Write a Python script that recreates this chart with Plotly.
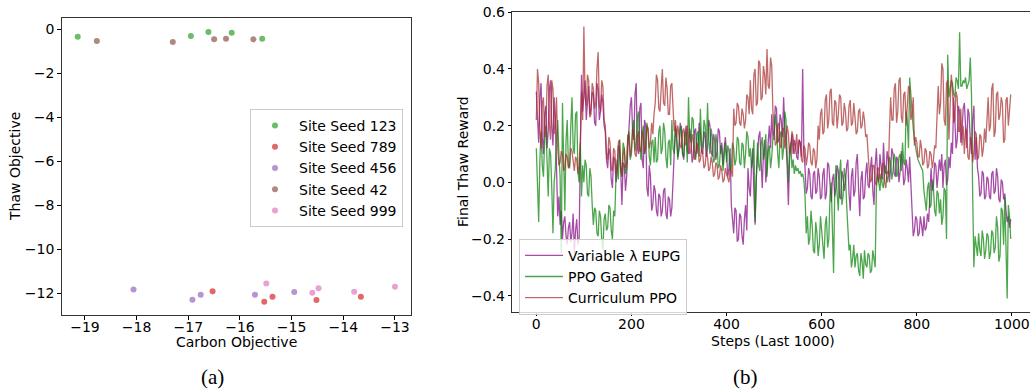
import plotly.graph_objects as go

# ---------------- Left panel data (a) ----------------
seed_names = ["Site Seed 123", "Site Seed 789", "Site Seed 456", "Site Seed 42", "Site Seed 999"]
seed_colors = ["#2ca02c", "#d62728", "#9467bd", "#8c564b", "#e377c2"]
carbon_123 = [-19.14, -16.95, -16.61, -16.16, -15.57]
thaw_123 = [-0.35, -0.32, -0.14, -0.17, -0.44]
carbon_789 = [-16.53, -15.53, -15.37, -14.52, -13.66]
thaw_789 = [-11.90, -12.38, -12.15, -12.30, -12.15]
carbon_456 = [-18.06, -16.92, -16.76, -15.71, -14.95]
thaw_456 = [-11.82, -12.29, -12.06, -12.06, -11.94]
carbon_42 = [-18.77, -17.30, -16.50, -16.27, -15.74]
thaw_42 = [-0.54, -0.59, -0.47, -0.44, -0.47]
carbon_999 = [-15.49, -14.60, -14.48, -13.79, -13.00]
thaw_999 = [-11.55, -11.97, -11.77, -11.93, -11.70]
seed_x = [carbon_123, carbon_789, carbon_456, carbon_42, carbon_999]
seed_y = [thaw_123, thaw_789, thaw_456, thaw_42, thaw_999]

# ---------------- Right panel data (b) ----------------
# one value every 2.5 steps (20 values per row = 50 steps)
eupg = [
    0.32, 0.20, 0.14, 0.30, 0.35, 0.16, 0.10, 0.24, 0.27, 0.12, 0.18, 0.33, 0.36, 0.20, 0.13, 0.30, 0.22, 0.05, -0.12, -0.05,
    -0.15, -0.10, -0.20, -0.14, -0.12, -0.19, -0.22, -0.16, -0.14, -0.21, -0.18, -0.11, -0.25, -0.17, -0.13, -0.22, -0.20, 0.10, 0.38, 0.25,
    0.30, 0.36, 0.22, 0.29, 0.34, 0.24, 0.26, 0.32, 0.31, 0.21, 0.20, 0.35, 0.33, 0.22, 0.25, 0.31, 0.28, 0.20, 0.18, 0.08,
    0.05, 0.12, 0.10, 0.01, -0.02, 0.09, 0.08, 0.00, 0.03, 0.13, 0.11, 0.04, -0.08, 0.07, 0.06, -0.03, 0.02, 0.12, 0.20, 0.27,
    0.30, 0.18, 0.15, 0.31, 0.35, 0.12, 0.10, 0.26, 0.28, 0.08, 0.05, 0.22, 0.20, -0.02, -0.05, 0.06, 0.02, -0.10, -0.08, -0.01,
    -0.03, -0.10, -0.12, -0.04, -0.05, -0.12, -0.10, -0.03, -0.02, -0.11, -0.13, -0.05, -0.06, -0.12, -0.09, 0.02, 0.10, 0.20, 0.15, 0.09,
    0.12, 0.21, 0.18, 0.10, 0.08, 0.17, 0.20, 0.11, 0.10, 0.19, 0.16, 0.07, 0.09, 0.18, 0.19, 0.10, 0.13, 0.21, 0.17, 0.11,
    0.10, 0.18, 0.16, 0.09, 0.12, 0.22, 0.20, 0.11, 0.09, 0.17, 0.15, 0.08, 0.11, 0.19, 0.18, 0.10, 0.14, 0.06, 0.12, 0.16,
    0.10, 0.02, 0.05, 0.12, -0.08, -0.14, -0.18, -0.09, -0.10, -0.21, -0.20, -0.11, -0.12, -0.19, -0.22, -0.13, -0.08, -0.17, 0.05, -0.02,
    -0.05, 0.06, 0.12, -0.04, -0.15, 0.02, 0.08, 0.16, 0.18, 0.04, -0.02, 0.10, 0.15, 0.00, 0.05, 0.14, 0.20, 0.12, 0.24, 0.16,
    0.18, 0.27, 0.26, 0.14, 0.15, 0.24, 0.22, 0.16, 0.30, 0.19, 0.14, 0.05, -0.08, 0.08, 0.12, 0.17, 0.10, 0.15, 0.13, 0.09,
    0.08, 0.15, 0.14, 0.09, 0.40, 0.12, 0.05, -0.04, -0.02, 0.05, 0.03, -0.05, -0.06, 0.03, 0.04, -0.04, -0.03, 0.05, 0.02, -0.06,
    -0.05, 0.03, 0.05, -0.06, -0.04, 0.07, 0.06, -0.03, -0.07, 0.01, 0.03, -0.05, -0.02, 0.06, 0.04, -0.05, -0.06, 0.04, 0.02, -0.03,
    0.00, 0.06, 0.08, -0.04, -0.10, 0.02, 0.05, -0.05, -0.03, 0.07, 0.10, -0.02, -0.12, 0.01, 0.04, -0.06, -0.05, 0.03, 0.07, -0.01,
    -0.02, 0.05, 0.09, -0.03, -0.08, 0.06, 0.12, 0.02, 0.00, 0.10, 0.06, 0.01, 0.14, 0.04, 0.03, 0.11, 0.08, 0.00, 0.05, 0.12,
    0.10, 0.03, 0.02, 0.09, 0.08, 0.00, 0.04, 0.11, 0.07, -0.01, 0.01, 0.08, 0.05, 0.00, 0.09, -0.02, -0.14, -0.19, -0.17, -0.12,
    -0.13, -0.19, -0.18, -0.12, -0.15, -0.19, -0.12, -0.17, -0.16, -0.11, -0.14, -0.05, 0.05, -0.03, -0.01, 0.07, 0.06, -0.02, 0.02, 0.08,
    0.04, 0.10, -0.02, 0.06, 0.08, -0.01, 0.01, 0.09, 0.05, 0.14, 0.10, 0.30, 0.22, 0.12, 0.15, 0.27, 0.25, 0.14, 0.18, 0.26,
    0.28, 0.18, 0.12, 0.26, 0.24, 0.15, 0.10, 0.22, 0.27, 0.08, 0.16, 0.05, 0.02, -0.05, -0.04, 0.04, 0.03, -0.06, -0.05, 0.02,
    0.01, -0.05, -0.06, 0.03, 0.04, -0.04, -0.03, 0.05, 0.02, -0.06, -0.07, 0.01, 0.00, -0.06, -0.04, -0.10, -0.14, -0.12, -0.16, -0.13,
]
ppo_gated = [
    0.12, 0.02, -0.14, 0.08, 0.18, 0.06, 0.02, 0.15, 0.20, 0.08, -0.05, 0.12, 0.10, -0.02, -0.18, 0.00, 0.05, 0.16, 0.22, 0.10,
    0.02, -0.25, 0.28, 0.08, -0.10, 0.15, 0.22, 0.06, 0.05, 0.20, 0.30, 0.12, 0.10, 0.24, 0.25, 0.04, 0.00, 0.14, -0.05, 0.06,
    0.00, 0.08, 0.06, -0.04, -0.05, 0.05, 0.02, -0.08, -0.15, -0.09, -0.10, -0.18, -0.19, -0.10, -0.12, -0.20, -0.24, -0.13, -0.11, -0.17,
    -0.16, -0.08, -0.09, -0.17, -0.20, -0.10, -0.12, 0.02, 0.08, 0.01, 0.15, 0.05, 0.02, 0.14, 0.12, 0.03, 0.05, 0.16, 0.18, 0.08,
    0.10, 0.19, 0.22, 0.11, 0.14, 0.23, 0.25, 0.13, 0.08, 0.17, 0.20, 0.10, 0.12, 0.21, 0.18, 0.09, 0.06, 0.14, 0.15, 0.07,
    0.16, 0.07, 0.08, 0.18, 0.20, 0.10, 0.12, 0.21, 0.18, 0.09, 0.05, 0.14, 0.15, 0.06, 0.22, 0.12, 0.10, 0.19, 0.17, 0.08,
    0.12, 0.19, 0.20, 0.10, 0.09, 0.18, 0.16, 0.07, 0.30, 0.16, 0.14, 0.23, 0.22, 0.11, 0.08, 0.17, 0.18, 0.09, 0.26, 0.13,
    0.12, 0.22, 0.20, 0.11, 0.28, 0.15, 0.10, 0.19, 0.16, 0.07, 0.08, 0.17, 0.14, 0.05, 0.06, 0.13, 0.12, 0.04, 0.09, 0.14,
    0.07, 0.13, 0.11, 0.04, 0.05, 0.14, 0.12, 0.06, 0.08, 0.16, 0.15, 0.07, 0.06, 0.14, 0.13, 0.05, 0.10, 0.18, 0.16, 0.09,
    0.12, 0.05, 0.08, 0.15, -0.14, 0.02, 0.14, 0.06, 0.04, 0.13, 0.16, 0.08, 0.10, 0.17, 0.02, 0.11, 0.13, 0.05, 0.09, 0.16,
    0.15, 0.24, 0.20, 0.10, 0.05, 0.17, 0.18, 0.08, 0.12, 0.25, 0.22, 0.09, 0.00, 0.12, 0.14, 0.05, 0.08, 0.03, 0.06, 0.04,
    0.05, 0.03, 0.04, 0.02, 0.03, 0.01, -0.05, -0.18, -0.12, -0.22, -0.20, -0.10, -0.15, -0.24, -0.25, -0.14, -0.18, -0.26, -0.22, -0.12,
    -0.16, -0.22, -0.27, -0.15, -0.12, -0.23, -0.20, -0.05, 0.00, -0.20, -0.32, -0.02, 0.06, -0.04, -0.10, 0.03, 0.08, -0.08, -0.05, 0.05,
    0.02, -0.08, -0.15, -0.24, -0.22, -0.30, -0.27, -0.22, -0.30, -0.26, -0.25, -0.31, -0.33, -0.25, -0.28, -0.34, -0.24, -0.29, -0.30, -0.25,
    -0.26, -0.32, -0.31, -0.24, -0.27, -0.30, -0.02, 0.03, 0.00, -0.03, 0.03, -0.01, -0.02, 0.06, 0.05, 0.00, 0.02, 0.09, 0.07, 0.01,
    0.04, 0.10, 0.08, 0.02, 0.03, 0.09, 0.10, 0.04, 0.14, 0.07, 0.06, 0.25, 0.22, 0.12, 0.37, 0.30, 0.24, 0.19, 0.15, 0.12,
    0.10, 0.08, 0.07, 0.06, 0.05, 0.04, -0.03, -0.08, -0.10, -0.02, 0.00, -0.09, -0.08, 0.01, -0.02, -0.10, -0.12, -0.03, -0.04, -0.11,
    -0.06, -0.15, -0.12, -0.02, -0.03, -0.20, 0.45, 0.30, 0.33, 0.36, 0.35, 0.31, 0.30, 0.37, 0.36, 0.33, 0.53, 0.34, 0.34, 0.36,
    0.35, 0.37, 0.33, 0.35, 0.36, 0.44, 0.31, -0.05, -0.30, -0.19, -0.22, -0.26, -0.18, -0.24, -0.26, -0.17, -0.20, -0.27, -0.24, -0.18,
    -0.19, -0.27, -0.25, -0.17, -0.18, -0.25, -0.23, -0.12, -0.16, -0.28, -0.26, -0.09, -0.10, -0.22, -0.05, -0.30, -0.41, -0.08, -0.12, -0.20,
]
curriculum = [
    0.22, 0.40, 0.35, 0.18, 0.12, 0.28, 0.30, 0.16, 0.18, 0.34, 0.38, 0.20, 0.15, 0.36, 0.33, 0.17, 0.20, 0.30, 0.12, 0.06,
    0.07, 0.11, 0.10, 0.04, 0.05, 0.10, 0.09, 0.05, 0.06, 0.12, 0.11, 0.06, 0.04, 0.09, 0.08, 0.03, 0.06, 0.14, 0.32, 0.22,
    0.55, 0.30, 0.27, 0.38, 0.36, 0.23, 0.24, 0.35, 0.33, 0.26, 0.28, 0.40, 0.46, 0.27, 0.25, 0.36, 0.34, 0.22, 0.20, 0.10,
    0.08, 0.16, 0.14, 0.05, 0.04, 0.12, 0.11, 0.03, 0.06, 0.14, 0.15, 0.05, 0.02, 0.10, 0.12, 0.05, 0.07, 0.17, 0.16, 0.09,
    0.12, 0.19, 0.17, 0.10, 0.09, 0.16, 0.18, 0.11, 0.11, 0.18, 0.16, 0.10, 0.13, 0.20, 0.19, 0.12, 0.14, 0.21, 0.17, 0.24,
    0.28, 0.38, 0.36, 0.26, 0.25, 0.33, 0.40, 0.28, 0.27, 0.37, 0.33, 0.24, 0.24, 0.34, 0.35, 0.26, 0.18, 0.22, 0.16, 0.20,
    0.17, 0.13, 0.12, 0.18, 0.19, 0.13, 0.14, 0.20, 0.16, 0.10, 0.11, 0.17, 0.15, 0.08, 0.09, 0.14, 0.13, 0.07, 0.08, 0.12,
    0.10, 0.05, 0.06, 0.11, 0.09, 0.04, 0.05, 0.09, 0.07, 0.02, 0.03, 0.07, 0.06, 0.01, 0.02, 0.06, 0.04, 0.00, 0.01, 0.05,
    0.03, 0.01, 0.00, 0.05, 0.04, 0.02, 0.26, 0.20, 0.21, 0.28, 0.27, 0.21, 0.20, 0.26, 0.24, 0.19, 0.22, 0.31, 0.30, 0.24,
    0.36, 0.26, 0.24, 0.38, 0.40, 0.27, 0.28, 0.43, 0.42, 0.29, 0.30, 0.41, 0.38, 0.31, 0.47, 0.34, 0.33, 0.44, 0.41, 0.25,
    0.18, 0.13, 0.14, 0.20, 0.21, 0.13, 0.12, 0.19, 0.19, 0.12, 0.15, 0.20, 0.17, 0.10, 0.11, 0.18, 0.16, 0.10, 0.12, 0.17,
    0.10, 0.15, 0.14, 0.08, 0.07, 0.13, 0.12, 0.06, 0.09, 0.14, 0.13, 0.07, 0.06, 0.12, 0.11, 0.05, 0.08, 0.20, 0.15, 0.24,
    0.26, 0.17, 0.18, 0.29, 0.31, 0.19, 0.22, 0.32, 0.33, 0.21, 0.20, 0.29, 0.28, 0.19, 0.24, 0.31, 0.30, 0.20, 0.21, 0.28,
    0.25, 0.18, 0.19, 0.27, 0.29, 0.20, 0.21, 0.28, 0.23, 0.17, 0.18, 0.25, 0.26, 0.19, 0.20, 0.25, 0.22, 0.16, 0.17, 0.08,
    0.04, 0.00, 0.01, 0.06, 0.06, 0.00, -0.01, 0.05, 0.05, 0.01, 0.02, 0.06, 0.07, 0.00, -0.02, 0.04, 0.03, 0.18, 0.30, 0.22,
    0.22, 0.33, 0.35, 0.21, 0.25, 0.36, 0.37, 0.23, 0.21, 0.31, 0.32, 0.20, 0.26, 0.34, 0.33, 0.22, 0.24, 0.30, 0.13, 0.16,
    0.14, 0.09, 0.09, 0.15, 0.12, 0.06, 0.07, 0.12, 0.11, 0.05, 0.06, 0.11, 0.10, 0.05, 0.08, 0.13, 0.12, 0.28, 0.34, 0.24,
    0.28, 0.42, 0.40, 0.22, 0.20, 0.35, 0.36, 0.15, 0.24, 0.38, 0.33, 0.21, 0.22, 0.32, 0.30, 0.18, 0.18, 0.26, 0.13, 0.20,
    0.10, 0.19, 0.18, 0.09, 0.08, 0.16, 0.15, 0.07, 0.11, 0.18, 0.17, 0.08, 0.09, 0.17, 0.16, 0.09, 0.12, 0.19, 0.14, 0.22,
    0.30, 0.18, 0.20, 0.33, 0.35, 0.16, 0.18, 0.31, 0.32, 0.22, 0.24, 0.30, 0.28, 0.14, 0.15, 0.29, 0.30, 0.20, 0.26, 0.31,
]
steps = [i * 2.5 for i in range(len(eupg))]
line_names = ["Variable λ EUPG", "PPO Gated", "Curriculum PPO"]
line_colors = ["rgba(128,0,128,0.7)", "rgba(0,128,0,0.7)", "rgba(165,42,42,0.7)"]
line_values = [eupg, ppo_gated, curriculum]

W, H = 1030, 392
FONT = "DejaVu Sans"

fig = go.Figure()

for name, col, xs, ys in zip(seed_names, seed_colors, seed_x, seed_y):
    fig.add_trace(go.Scatter(
        x=xs, y=ys, mode="markers", name=name,
        marker=dict(color=col, size=6, opacity=0.7, line=dict(width=0)),
        xaxis="x", yaxis="y", legend="legend",
    ))

for name, col, ys in zip(line_names, line_colors, line_values):
    fig.add_trace(go.Scatter(
        x=steps, y=ys, mode="lines", name=name,
        line=dict(color=col, width=1.3),
        xaxis="x2", yaxis="y2", legend="legend2",
    ))

axis_common = dict(
    showgrid=False, zeroline=False, ticks="outside", ticklen=3.5, tickwidth=1,
    tickcolor="#000", showline=True, linecolor="#333", linewidth=1,
    automargin=False,
    tickfont=dict(family=FONT, size=14, color="#000"),
)

fig.update_layout(
    width=W, height=H, autosize=False,
    margin=dict(l=0, r=0, t=0, b=0, pad=0, autoexpand=False),
    paper_bgcolor="white", plot_bgcolor="white",
    font=dict(family=FONT, size=14, color="#000"),
    xaxis=dict(domain=[61.7 / W, 411 / W], range=[-19.45, -12.69],
               tickvals=[-19, -18, -17, -16, -15, -14, -13], mirror=True,
               anchor="y", ticklabelstandoff=-4, **axis_common),
    yaxis=dict(domain=[1 - 315 / H, 1 - 18.3 / H], range=[-12.98, 0.486],
               tickvals=[0, -2, -4, -6, -8, -10, -12], mirror=True,
               anchor="x", **axis_common),
    xaxis2=dict(domain=[512.3 / W, 1.0], range=[-50.5, 1038],
                tickvals=[0, 200, 400, 600, 800, 1000], mirror=True,
                anchor="y2", ticklabelstandoff=-4, **axis_common),
    yaxis2=dict(domain=[1 - 311.7 / H, 1 - 12.3 / H], range=[-0.4565, 0.6],
                tickvals=[-0.4, -0.2, 0.0, 0.2, 0.4, 0.6], tickformat=".1f",
                anchor="x2", **axis_common),
    legend=dict(x=403 / W, xanchor="right", y=1 - 109 / H, yanchor="top",
                bgcolor="rgba(255,255,255,0.8)", bordercolor="#cccccc", borderwidth=1,
                font=dict(family=FONT, size=14, color="#000"), tracegroupgap=0,
                itemwidth=38),
    legend2=dict(x=519 / W, xanchor="left", y=1 - 238.7 / H, yanchor="top",
                 bgcolor="rgba(255,255,255,0.8)", bordercolor="#cccccc", borderwidth=1,
                 font=dict(family=FONT, size=14, color="#000"), tracegroupgap=0,
                 itemwidth=38),
    showlegend=True,
)

annots = [
    dict(text="Carbon Objective", x=236 / W, y=1 - 342 / H, size=14, family=FONT, angle=0),
    dict(text="Thaw Objective", x=15 / W, y=1 - 167 / H, size=14, family=FONT, angle=-90),
    dict(text="Steps (Last 1000)", x=773 / W, y=1 - 341 / H, size=14, family=FONT, angle=0),
    dict(text="Final Thaw Reward", x=463 / W, y=1 - 162 / H, size=14, family=FONT, angle=-90),
    dict(text="(a)", x=212 / W, y=1 - 377 / H, size=21, family="Liberation Serif", angle=0),
    dict(text="(b)", x=745 / W, y=1 - 377 / H, size=21, family="Liberation Serif", angle=0),
]
for a in annots:
    fig.add_annotation(text=a["text"], x=a["x"], y=a["y"], xref="paper", yref="paper",
                       xanchor="center", yanchor="middle", showarrow=False,
                       textangle=a["angle"],
                       font=dict(family=a["family"], size=a["size"], color="#000"))

fig.write_html("out.html", config={"displayModeBar": False},
               post_script="document.body.style.margin='0';document.body.style.overflow='hidden';")
